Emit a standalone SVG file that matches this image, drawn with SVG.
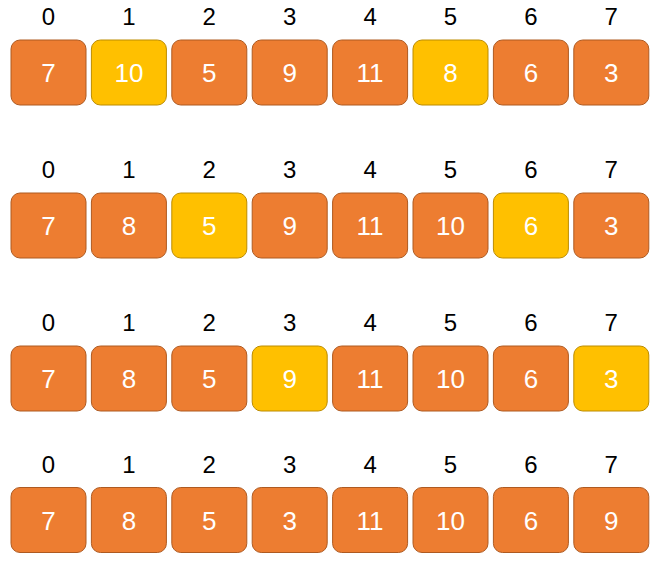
<svg xmlns="http://www.w3.org/2000/svg" width="657" height="564" viewBox="0 0 657 564">
<style>
.o{fill:#ED7D31;stroke:#AE5A21;stroke-width:1}
.y{fill:#FFC000;stroke:#BC8C00;stroke-width:1}
.v{font-family:"Liberation Sans",Arial,sans-serif;font-size:26px;fill:#FFFFFF;text-anchor:middle}
.i{font-family:"Liberation Sans",Arial,sans-serif;font-size:24px;fill:#000000;text-anchor:middle}
</style>
<rect width="657" height="564" fill="#FFFFFF"/>
<g id="row1" transform="translate(0,40)">
<g id="r1-labels"><text class="i" x="48.5" y="-15">0</text><text class="i" x="128.9" y="-15">1</text><text class="i" x="209.3" y="-15">2</text><text class="i" x="289.7" y="-15">3</text><text class="i" x="370.1" y="-15">4</text><text class="i" x="450.5" y="-15">5</text><text class="i" x="530.9" y="-15">6</text><text class="i" x="611.3" y="-15">7</text></g>
<g id="r1n0"><rect class="o" x="11" y="0" width="75" height="65" rx="9"/><text class="v" x="48.5" y="42">7</text></g>
<g id="r1n1"><rect class="y" x="91.4" y="0" width="75" height="65" rx="9"/><text class="v" x="128.9" y="42">10</text></g>
<g id="r1n2"><rect class="o" x="171.8" y="0" width="75" height="65" rx="9"/><text class="v" x="209.3" y="42">5</text></g>
<g id="r1n3"><rect class="o" x="252.2" y="0" width="75" height="65" rx="9"/><text class="v" x="289.7" y="42">9</text></g>
<g id="r1n4"><rect class="o" x="332.6" y="0" width="75" height="65" rx="9"/><text class="v" x="370.1" y="42">11</text></g>
<g id="r1n5"><rect class="y" x="413" y="0" width="75" height="65" rx="9"/><text class="v" x="450.5" y="42">8</text></g>
<g id="r1n6"><rect class="o" x="493.4" y="0" width="75" height="65" rx="9"/><text class="v" x="530.9" y="42">6</text></g>
<g id="r1n7"><rect class="o" x="573.8" y="0" width="75" height="65" rx="9"/><text class="v" x="611.3" y="42">3</text></g>
</g>
<g id="row2" transform="translate(0,193)">
<g id="r2-labels"><text class="i" x="48.5" y="-15">0</text><text class="i" x="128.9" y="-15">1</text><text class="i" x="209.3" y="-15">2</text><text class="i" x="289.7" y="-15">3</text><text class="i" x="370.1" y="-15">4</text><text class="i" x="450.5" y="-15">5</text><text class="i" x="530.9" y="-15">6</text><text class="i" x="611.3" y="-15">7</text></g>
<g id="r2n0"><rect class="o" x="11" y="0" width="75" height="65" rx="9"/><text class="v" x="48.5" y="42">7</text></g>
<g id="r2n1"><rect class="o" x="91.4" y="0" width="75" height="65" rx="9"/><text class="v" x="128.9" y="42">8</text></g>
<g id="r2n2"><rect class="y" x="171.8" y="0" width="75" height="65" rx="9"/><text class="v" x="209.3" y="42">5</text></g>
<g id="r2n3"><rect class="o" x="252.2" y="0" width="75" height="65" rx="9"/><text class="v" x="289.7" y="42">9</text></g>
<g id="r2n4"><rect class="o" x="332.6" y="0" width="75" height="65" rx="9"/><text class="v" x="370.1" y="42">11</text></g>
<g id="r2n5"><rect class="o" x="413" y="0" width="75" height="65" rx="9"/><text class="v" x="450.5" y="42">10</text></g>
<g id="r2n6"><rect class="y" x="493.4" y="0" width="75" height="65" rx="9"/><text class="v" x="530.9" y="42">6</text></g>
<g id="r2n7"><rect class="o" x="573.8" y="0" width="75" height="65" rx="9"/><text class="v" x="611.3" y="42">3</text></g>
</g>
<g id="row3" transform="translate(0,346)">
<g id="r3-labels"><text class="i" x="48.5" y="-15">0</text><text class="i" x="128.9" y="-15">1</text><text class="i" x="209.3" y="-15">2</text><text class="i" x="289.7" y="-15">3</text><text class="i" x="370.1" y="-15">4</text><text class="i" x="450.5" y="-15">5</text><text class="i" x="530.9" y="-15">6</text><text class="i" x="611.3" y="-15">7</text></g>
<g id="r3n0"><rect class="o" x="11" y="0" width="75" height="65" rx="9"/><text class="v" x="48.5" y="42">7</text></g>
<g id="r3n1"><rect class="o" x="91.4" y="0" width="75" height="65" rx="9"/><text class="v" x="128.9" y="42">8</text></g>
<g id="r3n2"><rect class="o" x="171.8" y="0" width="75" height="65" rx="9"/><text class="v" x="209.3" y="42">5</text></g>
<g id="r3n3"><rect class="y" x="252.2" y="0" width="75" height="65" rx="9"/><text class="v" x="289.7" y="42">9</text></g>
<g id="r3n4"><rect class="o" x="332.6" y="0" width="75" height="65" rx="9"/><text class="v" x="370.1" y="42">11</text></g>
<g id="r3n5"><rect class="o" x="413" y="0" width="75" height="65" rx="9"/><text class="v" x="450.5" y="42">10</text></g>
<g id="r3n6"><rect class="o" x="493.4" y="0" width="75" height="65" rx="9"/><text class="v" x="530.9" y="42">6</text></g>
<g id="r3n7"><rect class="y" x="573.8" y="0" width="75" height="65" rx="9"/><text class="v" x="611.3" y="42">3</text></g>
</g>
<g id="row4" transform="translate(0,487.5)">
<g id="r4-labels"><text class="i" x="48.5" y="-15">0</text><text class="i" x="128.9" y="-15">1</text><text class="i" x="209.3" y="-15">2</text><text class="i" x="289.7" y="-15">3</text><text class="i" x="370.1" y="-15">4</text><text class="i" x="450.5" y="-15">5</text><text class="i" x="530.9" y="-15">6</text><text class="i" x="611.3" y="-15">7</text></g>
<g id="r4n0"><rect class="o" x="11" y="0" width="75" height="65" rx="9"/><text class="v" x="48.5" y="42">7</text></g>
<g id="r4n1"><rect class="o" x="91.4" y="0" width="75" height="65" rx="9"/><text class="v" x="128.9" y="42">8</text></g>
<g id="r4n2"><rect class="o" x="171.8" y="0" width="75" height="65" rx="9"/><text class="v" x="209.3" y="42">5</text></g>
<g id="r4n3"><rect class="o" x="252.2" y="0" width="75" height="65" rx="9"/><text class="v" x="289.7" y="42">3</text></g>
<g id="r4n4"><rect class="o" x="332.6" y="0" width="75" height="65" rx="9"/><text class="v" x="370.1" y="42">11</text></g>
<g id="r4n5"><rect class="o" x="413" y="0" width="75" height="65" rx="9"/><text class="v" x="450.5" y="42">10</text></g>
<g id="r4n6"><rect class="o" x="493.4" y="0" width="75" height="65" rx="9"/><text class="v" x="530.9" y="42">6</text></g>
<g id="r4n7"><rect class="o" x="573.8" y="0" width="75" height="65" rx="9"/><text class="v" x="611.3" y="42">9</text></g>
</g>
<g id="connectors"/>
</svg>
